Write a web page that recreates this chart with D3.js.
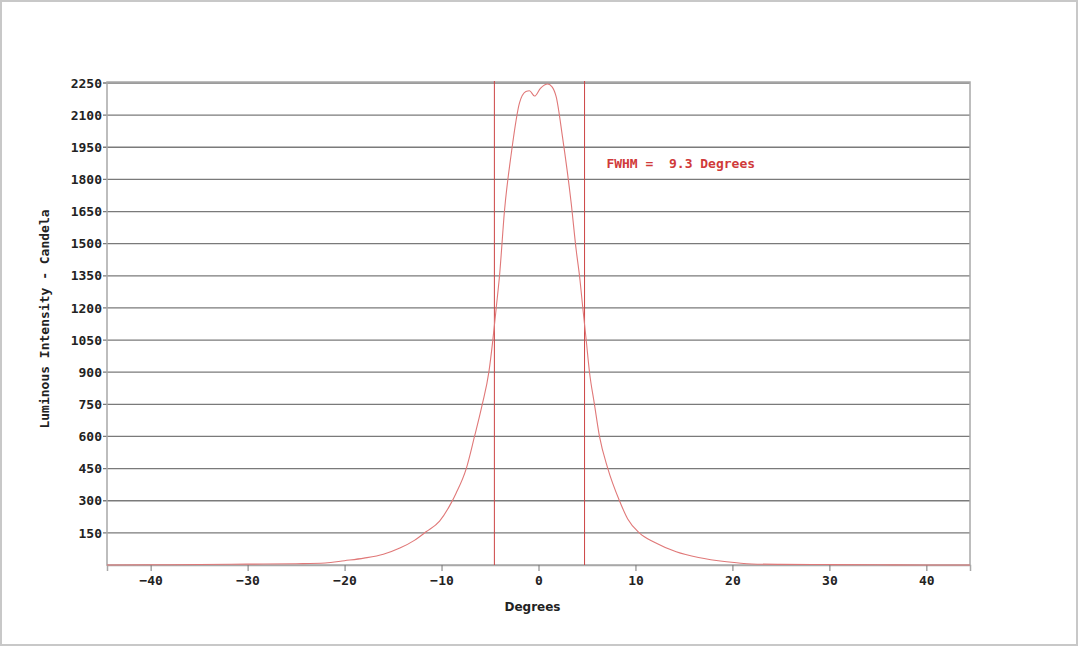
<!DOCTYPE html>
<html>
<head>
<meta charset="utf-8">
<script src="https://cdn.jsdelivr.net/npm/d3@7"></script>
<style>
  html, body { margin: 0; padding: 0; background: #fff; }
  svg { display: block; }
  .tick text { font-family: "DejaVu Sans Mono", monospace; font-weight: bold; font-size: 13px; fill: #222; }
</style>
</head>
<body>
<div id="chart"></div>
<script>
// angle (degrees) and luminous intensity (candela)
const degrees = [-44.5, -40, -35, -30, -25, -22, -20, -18, -16, -14.3, -12.8, -11.6, -10.2, -9.0, -8.5,
  -7.45, -6.6, -5.8, -5.12, -4.71, -4.36, -4.02, -3.5, -2.8, -1.96, -1.3, -0.93, -0.41, 0.2, 0.96,
  1.4, 1.82, 2.47, 3.37, 3.89, 4.23, 4.57, 4.92, 5.26, 5.77, 6.29, 7.15, 8.35, 9.2, 10.4,
  12, 14.2, 16.5, 19.4, 22, 25, 30, 35, 40, 44.5];
const candela = [0, 1, 2, 4, 6, 9, 20, 32, 50, 79, 115, 155, 205, 290, 335,
  450, 600, 750, 900, 1050, 1200, 1350, 1657, 1923, 2157, 2210, 2214, 2189, 2225, 2245,
  2232, 2186, 2000, 1690, 1469, 1350, 1200, 1050, 900, 750, 600, 450, 300, 215, 150,
  105, 62, 35, 15, 5, 3, 2, 1, 0, 0];

const yTicks = [150, 300, 450, 600, 750, 900, 1050, 1200, 1350, 1500, 1650, 1800, 1950, 2100, 2250];
const xTicks = [-40, -30, -20, -10, 0, 10, 20, 30, 40];
const fwhmLines = [-4.55, 4.75];
const fwhmText = "FWHM =  9.3 Degrees";

const W = 1080, H = 646;
const margin = { top: 83, right: 110, bottom: 81, left: 107 };
const width = W - margin.left - margin.right;
const height = H - margin.top - margin.bottom;

const svg = d3.select('#chart').append('svg')
    .attr('width', W)
    .attr('height', H);

// faint photo frame
svg.append('rect')
    .attr('x', 1).attr('y', 1)
    .attr('width', W - 4).attr('height', H - 2)
    .attr('fill', 'none')
    .attr('stroke', '#c8c8c8')
    .attr('stroke-width', 2);

const g = svg.append('g')
    .attr('transform', `translate(${margin.left},${margin.top})`);

const x = d3.scaleLinear().domain([-44.5, 44.5]).range([0, width]);
const y = d3.scaleLinear().domain([0, 2250]).range([height, 0]);

// horizontal grid
g.append('g')
    .selectAll('line')
    .data(yTicks)
    .enter().append('line')
    .attr('x1', -4).attr('x2', width)
    .attr('y1', d => y(d)).attr('y2', d => y(d))
    .attr('stroke', '#7a7a7a')
    .attr('stroke-width', 1.3);

// frame
g.append('rect')
    .attr('x', 0).attr('y', -1)
    .attr('width', width).attr('height', height + 1)
    .attr('fill', 'none')
    .attr('stroke', '#a8a8a8')
    .attr('stroke-width', 1.5);

// y axis labels
const yAxis = g.append('g')
    .call(d3.axisLeft(y).tickValues(yTicks).tickFormat(d3.format('d')).tickSize(0).tickPadding(5));
yAxis.select('.domain').remove();

// x axis
const xAxis = g.append('g')
    .attr('transform', `translate(0,${height})`)
    .call(d3.axisBottom(x).tickValues(xTicks).tickSize(6).tickPadding(5));
xAxis.select('.domain').attr('stroke', '#a8a8a8').attr('stroke-width', 1.5);
xAxis.selectAll('.tick line').attr('stroke', '#777');

// FWHM markers
g.selectAll('.fwhm')
    .data(fwhmLines)
    .enter().append('line')
    .attr('class', 'fwhm')
    .attr('x1', d => x(d)).attr('x2', d => x(d))
    .attr('y1', -2).attr('y2', height)
    .attr('stroke', '#cc4444')
    .attr('stroke-width', 1);

// curve
const points = degrees.map((d, i) => [d, candela[i]]);
const line = d3.line()
    .x(d => x(d[0]))
    .y(d => y(d[1]))
    .curve(d3.curveMonotoneX);

g.append('path')
    .datum(points)
    .attr('d', line)
    .attr('fill', 'none')
    .attr('stroke', '#e07878')
    .attr('stroke-width', 1.1);

g.append('text')
    .attr('x', x(7))
    .attr('y', y(1853))
    .attr('font-family', '"DejaVu Sans Mono", monospace')
    .attr('font-weight', 'bold')
    .attr('font-size', 13)
    .attr('fill', '#d03a3a')
    .attr('xml:space', 'preserve')
    .style('white-space', 'pre')
    .text(fwhmText);

// axis titles
g.append('text')
    .attr('x', width / 2 - 6)
    .attr('y', height + 46)
    .attr('text-anchor', 'middle')
    .attr('font-family', '"DejaVu Sans", sans-serif')
    .attr('font-weight', 'bold')
    .attr('font-size', 12)
    .attr('fill', '#222')
    .text('Degrees');

g.append('text')
    .attr('transform', 'rotate(-90)')
    .attr('x', -(height / 2) + 5)
    .attr('y', -58)
    .attr('text-anchor', 'middle')
    .attr('font-family', '"DejaVu Sans Mono", monospace')
    .attr('font-weight', 'bold')
    .attr('font-size', 13)
    .attr('fill', '#222')
    .text('Luminous Intensity - Candela');
</script>
</body>
</html>
